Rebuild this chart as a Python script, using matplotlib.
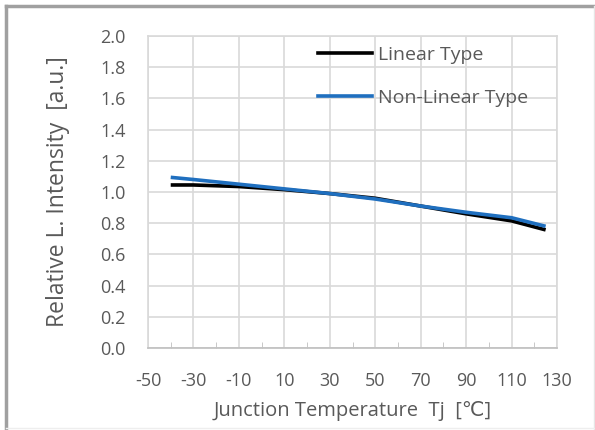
import numpy as np
import matplotlib
matplotlib.use('Agg')
import matplotlib.pyplot as plt
from matplotlib.lines import Line2D

plt.rcParams['font.family'] = ['Open Sans', 'DejaVu Sans']
plt.rcParams['axes.unicode_minus'] = False

# data
temp_linear = [-40, -30, -10, 10, 30, 50, 70, 90, 110, 125]
lin_vals = [1.045, 1.045, 1.035, 1.015, 0.99, 0.96, 0.91, 0.86, 0.815, 0.757]
temp_nonlin = [-40, -30, -10, 10, 30, 50, 70, 90, 110, 125]
nonlin_vals = [1.094, 1.08, 1.05, 1.02, 0.99, 0.955, 0.91, 0.87, 0.835, 0.78]

x_ticks = [-50, -30, -10, 10, 30, 50, 70, 90, 110, 130]
y_ticks = [0.0, 0.2, 0.4, 0.6, 0.8, 1.0, 1.2, 1.4, 1.6, 1.8, 2.0]

txt = '#595959'
grid = '#d9d9d9'

fig = plt.figure(figsize=(5.95, 4.3), dpi=100)
ax = fig.add_axes([148 / 595, 1 - 348 / 430, 409 / 595, 312 / 430])

ax.plot(temp_linear, lin_vals, color='black', lw=2.6, label='Linear Type', solid_capstyle='butt')
ax.plot(temp_nonlin, nonlin_vals, color='#1f6fbf', lw=2.6, label='Non-Linear Type', solid_capstyle='butt')

ax.set_xlim(-50, 130)
ax.set_ylim(0, 2.0)
ax.set_xticks(x_ticks)
ax.set_xticks(np.arange(-40, 130, 20), minor=True)
ax.set_yticks(y_ticks)
ax.set_yticklabels(['%.1f' % v for v in y_ticks])
ax.grid(True, color=grid, lw=1.2)
ax.set_axisbelow(True)

for s in ['top', 'right', 'left']:
    ax.spines[s].set_color(grid)
    ax.spines[s].set_linewidth(1.2)
ax.spines['bottom'].set_color('#bfbfbf')
ax.spines['bottom'].set_linewidth(1.2)

ax.tick_params(axis='both', which='major', length=0, labelsize=13, labelcolor=txt)
ax.tick_params(axis='y', which='major', pad=16)
ax.tick_params(axis='x', which='major', pad=17)
ax.tick_params(axis='x', which='minor', direction='in', length=4, color='#bfbfbf')

ax.set_xlabel('Junction Temperature  Tj  [\u2103]', fontsize=14.5, color=txt, labelpad=8)
ax.set_ylabel('Relative L. Intensity  [a.u.]', fontsize=16.5, color=txt, labelpad=22)

handles = [Line2D([0], [0], color='black', lw=2.6),
           Line2D([0], [0], color='#1f6fbf', lw=2.6)]
leg = ax.legend(handles, ['Linear Type', 'Non-Linear Type'], loc='upper left',
                bbox_to_anchor=(0.372, 1.025), frameon=False, fontsize=14,
                handlelength=2.8, handletextpad=0.3, labelspacing=1.3)
for t in leg.get_texts():
    t.set_color(txt)

# outer frame
fig.add_artist(Line2D([6 / 595, 6 / 595], [0, 1 - 6 / 430], color='#a0a0a0', lw=2.5))
fig.add_artist(Line2D([6 / 595, 1], [1 - 6 / 430, 1 - 6 / 430], color='#a0a0a0', lw=2.5))
fig.add_artist(Line2D([594 / 595, 594 / 595], [0, 1 - 6 / 430], color='#e6e6e6', lw=1))
fig.add_artist(Line2D([6 / 595, 1], [2 / 430, 2 / 430], color='#eeeeee', lw=1))

fig.savefig('out.png', dpi=100)
